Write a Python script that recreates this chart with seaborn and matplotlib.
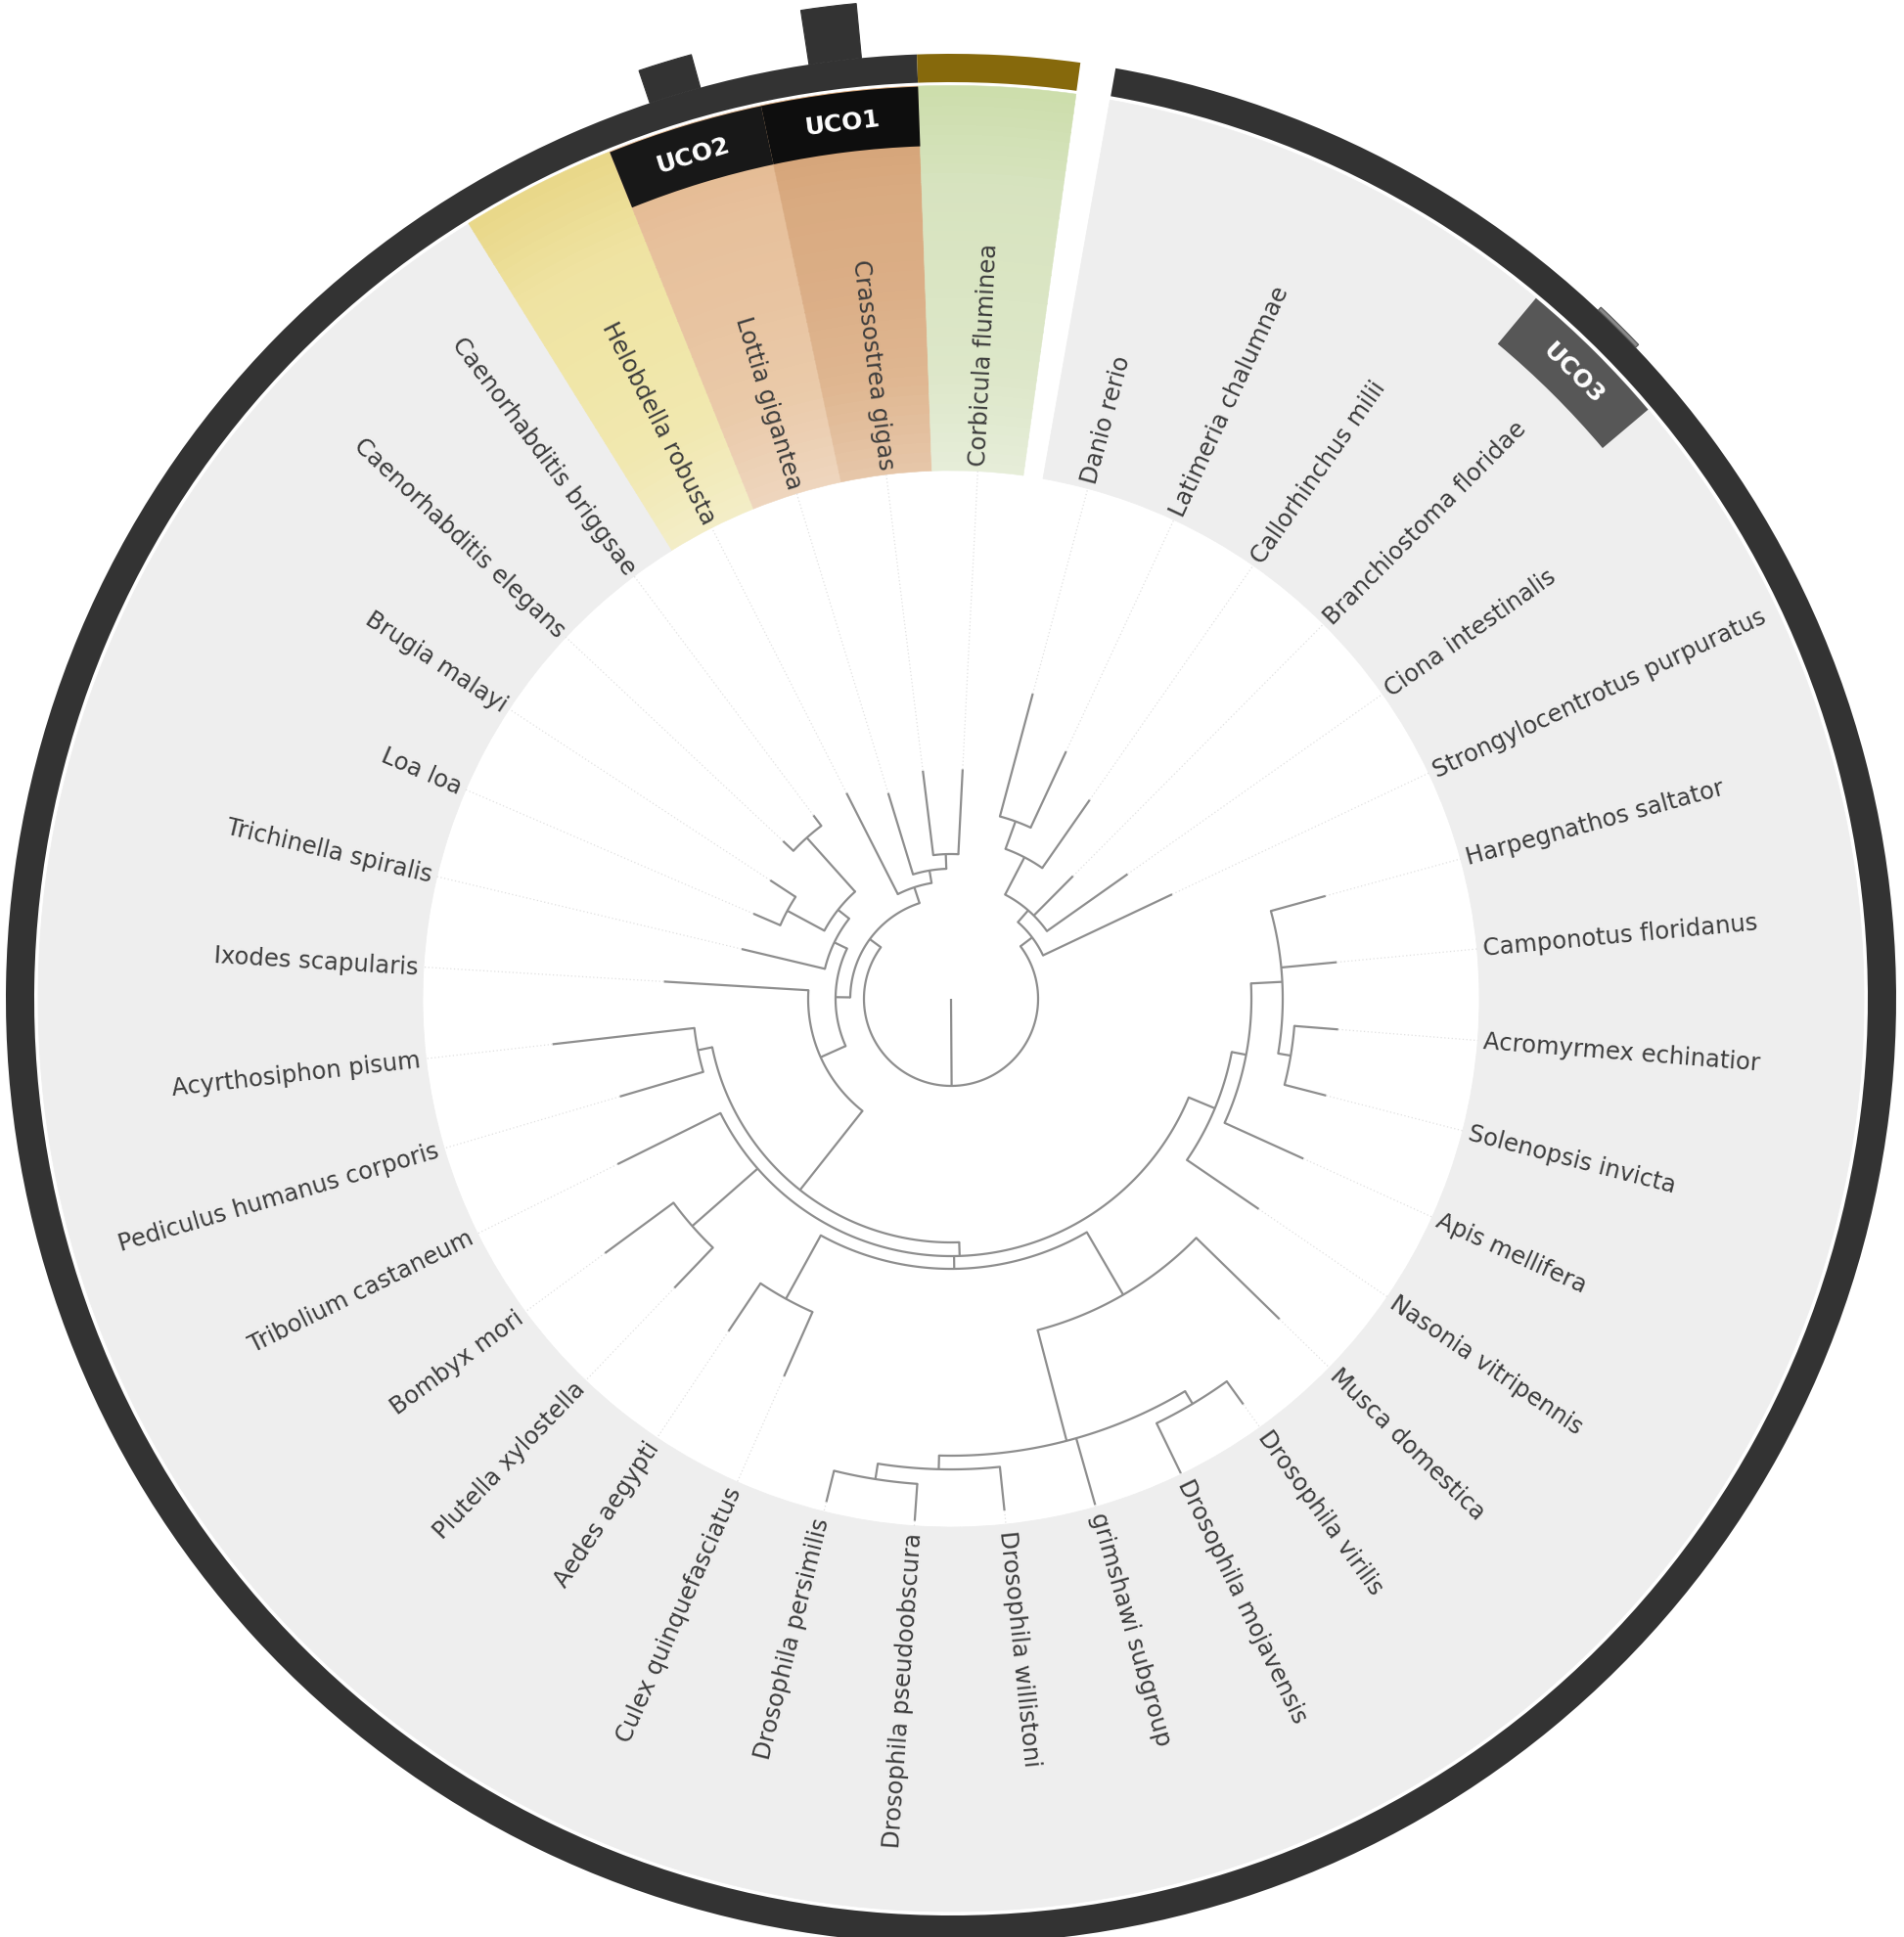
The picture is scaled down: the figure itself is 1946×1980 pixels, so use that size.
import matplotlib

matplotlib.use("Agg")

import matplotlib.pyplot as plt
import numpy as np
import seaborn as sns

# tree as newick, branch lengths in pixel-radius units
TREE = (
    "(((((Danio rerio:130,Latimeria chalumnae:86):30,Callorhinchus milii:85):43,"
    "Branchiostoma floridae:57,Ciona intestinalis:101):16,Strongylocentrotus purpuratus:146):15,"
    "((((((((Harpegnathos saltator:58,Camponotus floridanus:57,"
    "(Acromyrmex echinatior:45,Solenopsis invicta:44):13):32,Apis mellifera:88.5):15,"
    "Nasonia vitripennis:89):29,"
    "((Musca domestica:119,((Drosophila virilis:29,Drosophila mojavensis:57):15,"
    "grimshawi subgroup:71,(Drosophila willistoni:45,"
    "(Drosophila pseudoobscura:38,Drosophila persimilis:33):16):14):117):74,"
    "(Culex quinquefasciatus:72,Aedes aegypti:59):74):13,"
    "(Plutella xylostella:57,Bombyx mori:87):89,Tribolium castaneum:117.5):14,"
    "(Pediculus humanus corporis:89,Acyrthosiphon pisum:146):15):103,Ixodes scapularis:148):28,"
    "(Trichinella spiralis:87.5,((Loa loa:30,Brugia malayi:31):43,"
    "(Caenorhabditis elegans:14.5,Caenorhabditis briggsae:13.5):74):14.5):14.5):15,"
    "(Helobdella robusta:116,(Lottia gigantea:87,(Crassostrea gigas:87,Corbicula fluminea:87):15):13):17):14):89;"
)

LEAF_START = 15.0   # degrees clockwise from north
LEAF_STEP = 9.94

colored_leaves = ["Helobdella robusta", "Lottia gigantea", "Crassostrea gigas", "Corbicula fluminea"]
colored_shades = [
    ["#f3edc6", "#f1e8b0", "#f0e6a8", "#efe3a2", "#e9d88a"],
    ["#eed5bd", "#eacaa9", "#e8c4a1", "#e7c09b", "#e3b78e"],
    ["#e6c6a8", "#dfb690", "#dbae86", "#d9aa80", "#d2a072"],
    ["#e6edd8", "#dde7c9", "#dae5c3", "#d7e3bf", "#cddeac"],
]

uco_labels = ["UCO1", "UCO2", "UCO3"]
uco_leaves = ["Crassostrea gigas", "Lottia gigantea", "Branchiostoma floridae"]
uco_colors = ["#0e0e0e", "#181818", "#575757"]

bar_leaves = ["Lottia gigantea", "Crassostrea gigas", "Branchiostoma floridae"]
bar_heights = [35, 56, 4]
bar_colors = ["#333333", "#333333", "#8a8a8a"]

ring_leaf_olive = "Corbicula fluminea"


def parse_newick(text):
    s = text.strip().rstrip(";")
    pos = 0

    def node():
        nonlocal pos
        children = []
        if s[pos] == "(":
            pos += 1
            while True:
                children.append(node())
                if s[pos] == ",":
                    pos += 1
                    continue
                pos += 1
                break
        start = pos
        while pos < len(s) and s[pos] not in ",():":
            pos += 1
        name = s[start:pos]
        length = 0.0
        if pos < len(s) and s[pos] == ":":
            pos += 1
            start = pos
            while pos < len(s) and s[pos] not in ",()":
                pos += 1
            length = float(s[start:pos])
        return {"name": name, "length": length, "children": children}

    return node()


leaves = []


def layout(n, r_parent):
    n["r0"] = r_parent
    n["r"] = r_parent + n["length"]
    if n["children"]:
        for c in n["children"]:
            layout(c, n["r"])
        n["theta"] = (n["children"][0]["theta"] + n["children"][-1]["theta"]) / 2
    else:
        n["theta"] = LEAF_START + LEAF_STEP * len(leaves)
        leaves.append(n)


def main():
    sns.set_theme(style="white")
    plt.rcParams["font.family"] = ["DejaVu Sans"]

    tree = parse_newick(TREE)
    layout(tree, 0.0)
    leaf_theta = {lf["name"]: lf["theta"] for lf in leaves}

    W, H = 1946, 1981
    cx, cy = 972, 1022
    R = 1030
    fig = plt.figure(figsize=(W / 100, H / 100), dpi=100)
    ax = fig.add_axes([(cx - R) / W, (H - cy - R) / H, 2 * R / W, 2 * R / H], projection="polar")
    ax.set_theta_zero_location("N")
    ax.set_theta_direction(-1)
    ax.set_ylim(0, R)
    ax.set_axis_off()

    band_in, band_out = 540, 933
    ring_in, ring_out = 937, 966
    step = np.radians(LEAF_STEP)

    # label band
    for lf in leaves:
        t = np.radians(lf["theta"])
        if lf["name"] in colored_leaves:
            shades = sns.blend_palette(colored_shades[colored_leaves.index(lf["name"])], 40)
            dr = (band_out - band_in) / len(shades)
            for k, col in enumerate(shades):
                ax.bar(t, dr + 0.6, width=step, bottom=band_in + k * dr, color=col,
                       edgecolor=col, linewidth=0.4)
        else:
            ax.bar(t, band_out - band_in, width=step, bottom=band_in, color="#eeeeee",
                   edgecolor="#eeeeee", linewidth=0.6)

    # outer ring
    dark = [lf["theta"] for lf in leaves if lf["name"] != ring_leaf_olive]
    t0, t1 = min(dark) - LEAF_STEP / 2, max(dark) + LEAF_STEP / 2
    ax.bar(np.radians((t0 + t1) / 2), ring_out - ring_in, width=np.radians(t1 - t0),
           bottom=ring_in, color="#333333", linewidth=0)
    ax.bar(np.radians(leaf_theta[ring_leaf_olive]), ring_out - ring_in, width=step,
           bottom=ring_in, color="#86690c", linewidth=0)

    # bars outside the ring
    for name, h, col in zip(bar_leaves, bar_heights, bar_colors):
        ax.bar(np.radians(leaf_theta[name]), h, width=np.radians(3.2), bottom=ring_out,
               color=col, edgecolor="#555555" if h < 10 else col, linewidth=0.8)

    # UCO boxes
    for lab, name, col in zip(uco_labels, uco_leaves, uco_colors):
        th = leaf_theta[name]
        ax.bar(np.radians(th), band_out - 872, width=step, bottom=872, color=col, linewidth=0)
        ax.text(np.radians(th), 902, lab, color="white", fontsize=18, fontweight="bold",
                rotation=-th if th < 180 else 360 - th, rotation_mode="anchor",
                ha="center", va="center")

    # tree
    line_col = "#8e8e8e"

    def draw(n):
        t = np.radians(n["theta"])
        ax.plot([t, t], [n["r0"], n["r"]], color=line_col, lw=1.6, solid_capstyle="butt")
        if n["children"]:
            arc = np.radians(np.linspace(n["children"][0]["theta"], n["children"][-1]["theta"], 120))
            ax.plot(arc, np.full(arc.shape, n["r"]), color=line_col, lw=1.6)
            for c in n["children"]:
                draw(c)
        else:
            ax.plot([t, t], [n["r"], band_in], color="#e0e0e0", lw=0.9, linestyle=(0, (1, 2)))

    draw(tree)

    # leaf labels
    for lf in leaves:
        th = lf["theta"] % 360
        if th < 180:
            rot, ha = 90 - th, "left"
        else:
            rot, ha = 270 - th, "right"
        ax.text(np.radians(lf["theta"]), band_in + 6, lf["name"], fontsize=17.5, color="#3c3c3c",
                rotation=rot, rotation_mode="anchor", ha=ha, va="center")

    fig.savefig("out.png", dpi=100)
    plt.close(fig)


if __name__ == "__main__":
    main()
